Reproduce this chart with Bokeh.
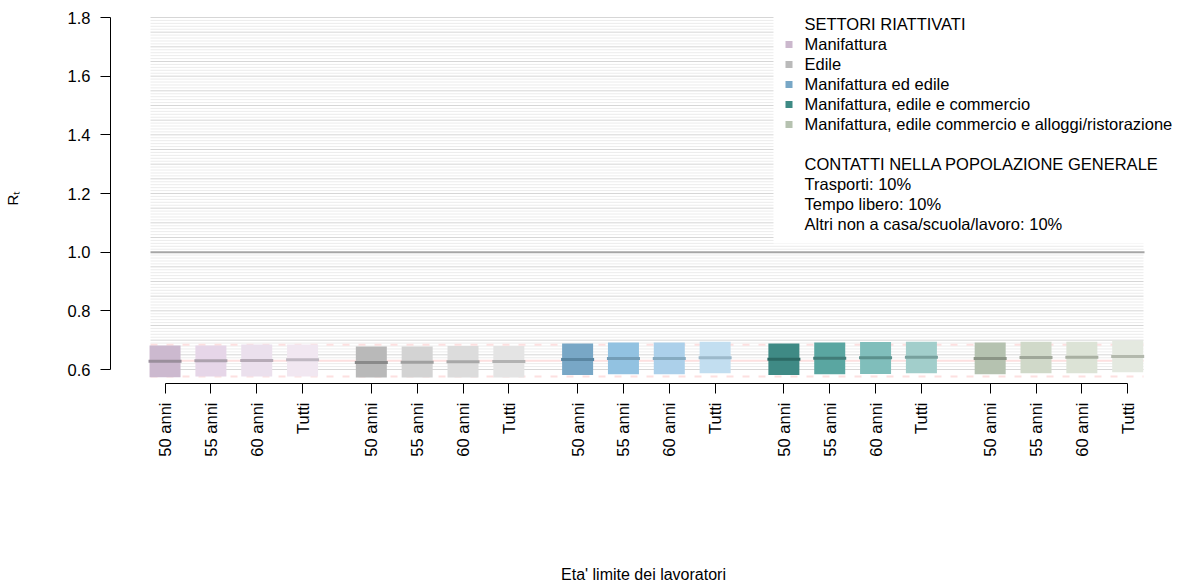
import math
import numpy as np
from bokeh.plotting import figure
from bokeh.models import ColumnDataSource, FixedTicker, Range1d
from bokeh.core.properties import value
from bokeh.embed import file_html
from bokeh.resources import INLINE

FONT = "Liberation Sans"

# ---------------- data ----------------
sectors = ["Manifattura", "Edile", "Manifattura ed edile",
           "Manifattura, edile e commercio",
           "Manifattura, edile commercio e alloggi/ristorazione"]
age_limits = ["50 anni", "55 anni", "60 anni", "Tutti"]

# lower / upper edge of each box and the median (Rt), per sector, per age limit
low_manif = [0.574, 0.576, 0.576, 0.576]
high_manif = [0.682, 0.682, 0.685, 0.685]
med_manif = [0.628, 0.630, 0.631, 0.633]

low_edile = [0.573, 0.573, 0.573, 0.573]
high_edile = [0.678, 0.678, 0.680, 0.680]
med_edile = [0.624, 0.625, 0.626, 0.627]

low_me = [0.581, 0.584, 0.584, 0.587]
high_me = [0.689, 0.692, 0.692, 0.695]
med_me = [0.634, 0.6375, 0.6375, 0.640]

low_mec = [0.581, 0.584, 0.585, 0.587]
high_mec = [0.689, 0.692, 0.694, 0.695]
med_mec = [0.635, 0.6385, 0.640, 0.642]

low_all = [0.584, 0.587, 0.587, 0.591]
high_all = [0.692, 0.695, 0.695, 0.699]
med_all = [0.6375, 0.641, 0.642, 0.644]

# reference scenario (pink lines): median and interval
ref_median = 0.630
ref_low = 0.576
ref_high = 0.684

y_ticks = [0.6, 0.8, 1.0, 1.2, 1.4, 1.6, 1.8]
y_tick_labels = ["0.6", "0.8", "1.0", "1.2", "1.4", "1.6", "1.8"]
threshold = 1.0

x_title = "Eta' limite dei lavoratori"
y_title = "R\u209c"

legend_title_1 = "SETTORI RIATTIVATI"
legend_title_2 = "CONTATTI NELLA POPOLAZIONE GENERALE"
contact_lines = ["Trasporti: 10%", "Tempo libero: 10%",
                 "Altri non a casa/scuola/lavoro: 10%"]

# ---------------- styles ----------------
fill_colors = [
    ["#ccb9cf", "#e6d6e8", "#ebe0ed", "#f1e7f1"],
    ["#b9b9b9", "#d3d3d3", "#dcdcdc", "#e4e4e4"],
    ["#78a7c6", "#92c2e1", "#acd0ea", "#c2def0"],
    ["#3f8a85", "#5aa6a1", "#80bebb", "#a2cecb"],
    ["#b5c2b0", "#d0d9c9", "#dce3d6", "#e4e9e0"],
]
median_colors = [
    ["#9a8f9c", "#ada2ae", "#b6abb7", "#c0b8c2"],
    ["#8a8a8a", "#a0a0a0", "#a8a8a8", "#b2b2b2"],
    ["#5a86a2", "#739db7", "#86abc1", "#9cb9cb"],
    ["#2c6964", "#417c78", "#5b918d", "#77a09d"],
    ["#8b9586", "#9fa799", "#a9b0a2", "#b3b9ad"],
]
legend_colors = ["#cbb8cd", "#bababa", "#78a7c6", "#3e8a84", "#b6c2b0"]

# ---------------- layout geometry (page pixels) ----------------
W, H = 1182, 586
SX = 45.84          # px per x unit
SY = 293.33         # px per y unit
FR_L, FR_R, FR_T, FR_B = 110, 1176, 12, 383   # frame edges
X0 = -0.19
X1 = X0 + (FR_R - FR_L) / SX
Y0 = 0.6 - (FR_B - 369) / SY
Y1 = Y0 + (FR_B - FR_T) / SY


def px2x(px):
    return X0 + (px - FR_L) / SX


def py2y(py):
    return Y0 + (FR_B - py) / SY


lows = [low_manif, low_edile, low_me, low_mec, low_all]
highs = [high_manif, high_edile, high_me, high_mec, high_all]
meds = [med_manif, med_edile, med_me, med_mec, med_all]

xs, tops, bots, medv, fc, mc, tick_labels = [], [], [], [], [], [], {}
for g in range(len(sectors)):
    for a in range(len(age_limits)):
        pos = 1 + g * 4.5 + a
        xs.append(pos)
        tops.append(highs[g][a])
        bots.append(lows[g][a])
        medv.append(meds[g][a])
        fc.append(fill_colors[g][a])
        mc.append(median_colors[g][a])
        tick_labels[pos] = age_limits[a]

src = ColumnDataSource(dict(x=xs, top=tops, bottom=bots, med=medv, fc=fc, mc=mc,
                            x0=[v - 0.36 for v in xs], x1=[v + 0.36 for v in xs]))

p = figure(width=W, height=H, x_range=Range1d(X0, X1), y_range=Range1d(Y0, Y1),
           output_backend="svg", toolbar_location=None,
           min_border_left=FR_L, min_border_right=W - FR_R,
           min_border_top=FR_T, min_border_bottom=H - FR_B)
p.outline_line_color = None
p.grid.visible = False
p.background_fill_color = "white"
p.border_fill_color = "white"

# background horizontal lines
xa, xb = px2x(150), px2x(1143)
levels = np.round(np.arange(0.60, 1.8001, 0.01), 2)
minor = [v for v in levels if abs(v * 20 - round(v * 20)) > 1e-6]
major = [v for v in levels if abs(v * 20 - round(v * 20)) <= 1e-6 and abs(v - threshold) > 1e-6]
p.segment(x0=[xa] * len(minor), x1=[xb] * len(minor), y0=minor, y1=minor,
          line_color="#ececec", line_width=1)
p.segment(x0=[xa] * len(major), x1=[xb] * len(major), y0=major, y1=major,
          line_color="#d6d6d6", line_width=1)

# white legend background
p.quad(left=[px2x(773)], right=[px2x(1176)], top=[py2y(10)], bottom=[py2y(243)],
       fill_color="white", line_color=None)

# threshold line
p.segment(x0=[xa], x1=[px2x(1144)], y0=[threshold], y1=[threshold],
          line_color="#a6a6a6", line_width=2)

# reference scenario lines
p.segment(x0=[xa], x1=[xb], y0=[ref_median], y1=[ref_median],
          line_color="#fde0e0", line_width=2)
p.segment(x0=[xa, xa], x1=[xb, xb], y0=[ref_low, ref_high], y1=[ref_low, ref_high],
          line_color="#fde0e0", line_width=2, line_dash="7 9")

# boxes and medians
p.vbar(x="x", width=31 / SX, top="top", bottom="bottom", fill_color="fc",
       line_color=None, source=src)
p.segment(x0="x0", x1="x1", y0="med", y1="med", line_color="mc", line_width=3,
          source=src)

# legend
row_y = [py2y(23 + 20 * k) for k in range(11)]
p.scatter(x=[px2x(788.5)] * 5, y=[py2y(23 + 20 * k + 1) for k in range(1, 6)],
          marker="square", size=7, fill_color=legend_colors, line_color=None)
legend_texts = [legend_title_1] + sectors + [""] + [legend_title_2] + contact_lines
p.text(x=[px2x(804)] * len(legend_texts), y=row_y, text=legend_texts,
       text_font=value(FONT), text_font_size="16.5px", text_color="black",
       text_align="left", text_baseline="middle")

# axes
yax = p.yaxis[0]
yax.ticker = FixedTicker(ticks=y_ticks)
yax.major_label_overrides = {t: l for t, l in zip(y_ticks, y_tick_labels)}
yax.bounds = (y_ticks[0], y_ticks[-1])
xax = p.xaxis[0]
xax.ticker = FixedTicker(ticks=xs)
xax.major_label_overrides = tick_labels
xax.bounds = (xs[0], xs[-1])
xax.major_label_orientation = math.pi / 2
for ax in (xax, yax):
    ax.axis_line_color = "black"
    ax.axis_line_width = 1
    ax.major_tick_line_color = "black"
    ax.major_tick_out = 10
    ax.major_tick_in = 0
    ax.minor_tick_out = 0
    ax.minor_tick_in = 0
    ax.major_label_text_font = FONT
    ax.major_label_text_font_size = "16.5px"
    ax.major_label_text_color = "black"
    ax.axis_label_text_font = FONT
    ax.axis_label_text_font_style = "normal"
    ax.axis_label_text_color = "black"
yax.major_label_standoff = 10
xax.major_label_standoff = 9

xax.axis_label = x_title
xax.axis_label_text_font_size = "16px"
xax.axis_label_standoff = 106
yax.axis_label = y_title
yax.axis_label_text_font_size = "15px"
yax.axis_label_standoff = 44

open("out.html", "w").write(file_html(p, INLINE))
